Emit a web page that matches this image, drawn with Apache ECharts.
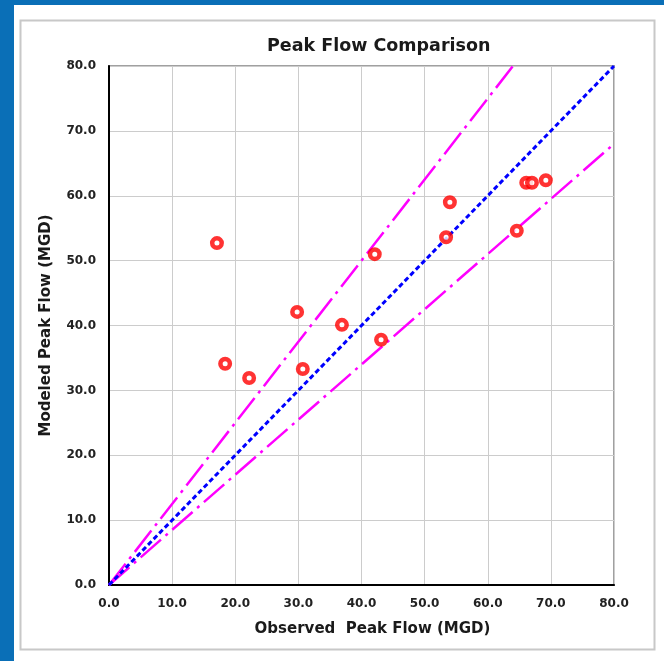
<!DOCTYPE html>
<html><head><meta charset="utf-8">
<style>html,body{margin:0;padding:0;background:#0a6fb7;}#c{width:664px;height:661px;}</style>
<script src="https://cdn.jsdelivr.net/npm/echarts@6/dist/echarts.min.js"></script>
</head><body><div id="c"></div>
<script>
const observed = [17.1, 18.4, 22.2, 29.8, 30.7, 36.9, 42.1, 43.1, 53.4, 54.0, 64.6, 66.1, 67.0, 69.2];
const modeled  = [52.7, 34.1, 31.9, 42.1, 33.3, 40.1, 51.0, 37.8, 53.6, 59.0, 54.6, 62.0, 62.0, 62.4];
const equalLine = [[0, 0], [80, 80]];
const upperLine = [[0, 0], [64, 80]];
const lowerLine = [[0, 0], [80, 68]];
const axisTicks = [0, 10, 20, 30, 40, 50, 60, 70, 80];

const chart = echarts.init(document.getElementById('c'));
const font = 'DejaVu Sans, Liberation Sans, Arial, sans-serif';
chart.setOption({
  backgroundColor: '#0a6fb7',
  animation: false,
  graphic: [
    {type: 'rect', shape: {x: 14, y: 5, width: 660, height: 670}, style: {fill: '#ffffff'}, z: -10},
    {type: 'rect', shape: {x: 20.5, y: 20.5, width: 634, height: 629}, style: {fill: '#ffffff', stroke: '#c8c8c8', lineWidth: 2}, z: -9}
  ],
  title: {
    text: 'Peak Flow Comparison', left: 262, top: 32,
    textStyle: {fontFamily: font, fontSize: 17.5, fontWeight: 'bold', color: '#1a1a1a'}
  },
  grid: {left: 109, right: 50, top: 66, bottom: 76, show: true, borderColor: '#a0a0a0', borderWidth: 2},
  xAxis: {
    type: 'value', min: axisTicks[0], max: axisTicks[axisTicks.length - 1], interval: 10,
    name: 'Observed  Peak Flow (MGD)', nameLocation: 'middle', nameGap: 37,
    nameTextStyle: {fontFamily: font, fontSize: 15, fontWeight: 'bold', color: '#1a1a1a', padding: [0, 0, 0, 22]},
    axisLine: {show: true, onZero: false, lineStyle: {color: '#000', width: 2}},
    axisTick: {show: false},
    axisLabel: {formatter: v => v.toFixed(1), fontFamily: font, fontSize: 12, fontWeight: 'bold', color: '#222', margin: 13},
    splitLine: {show: true, lineStyle: {color: '#cccccc', width: 1}}
  },
  yAxis: {
    type: 'value', min: axisTicks[0], max: axisTicks[axisTicks.length - 1], interval: 10,
    name: 'Modeled Peak Flow (MGD)', nameLocation: 'middle', nameGap: 55,
    nameTextStyle: {fontFamily: font, fontSize: 15, fontWeight: 'bold', color: '#1a1a1a'},
    axisLine: {show: true, onZero: false, lineStyle: {color: '#000', width: 2}},
    axisTick: {show: false},
    axisLabel: {formatter: v => v.toFixed(1), fontFamily: font, fontSize: 12, fontWeight: 'bold', color: '#222', margin: 13},
    splitLine: {show: true, lineStyle: {color: '#cccccc', width: 1}}
  },
  series: [
    {type: 'line', data: upperLine, symbol: 'none', lineStyle: {color: '#ff00ff', width: 2.5, type: [27, 6, 3, 6]}, z: 2},
    {type: 'line', data: lowerLine, symbol: 'none', lineStyle: {color: '#ff00ff', width: 2.5, type: [27, 6, 3, 6]}, z: 2},
    {type: 'line', data: equalLine, symbol: 'none', lineStyle: {color: '#0000ff', width: 3, type: [5, 3]}, z: 3},
    {type: 'scatter', data: observed.map((x, i) => [x, modeled[i]]), symbol: 'circle', symbolSize: 9.5,
     itemStyle: {color: '#ffffff', borderColor: '#ff0000', borderWidth: 4.5}, z: 5}
  ]
});
</script></body></html>
